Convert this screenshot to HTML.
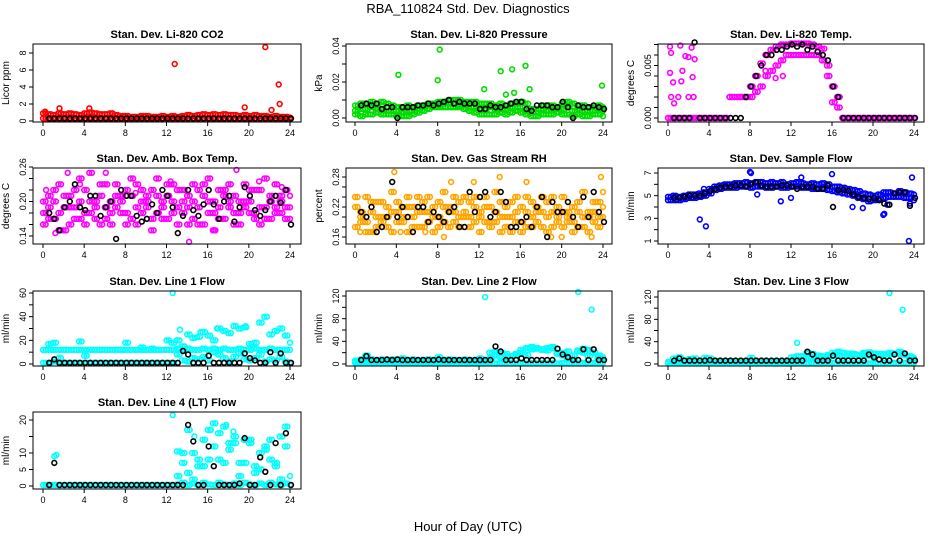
<!DOCTYPE html>
<html><head><meta charset="utf-8"><style>
html,body{margin:0;padding:0;background:#fff;}
svg{display:block;font-family:"Liberation Sans",sans-serif;}
</style></head><body>
<svg id="chart" width="936" height="540" viewBox="0 0 936 540">
<text x="468" y="13" text-anchor="middle" font-size="13">RBA_110824  Std. Dev. Diagnostics</text>
<text x="468" y="531" text-anchor="middle" font-size="13">Hour of Day (UTC)</text>
</svg>
<script>
const H=[0,0.5,1,1.5,2,2.5,3,3.5,4,4.5,5,5.5,6,6.5,7,7.5,8,8.5,9,9.5,10,10.5,11,11.5,12,12.5,13,13.5,14,14.5,15,15.5,16,16.5,17,17.5,18,18.5,19,19.5,20,20.5,21,21.5,22,22.5,23,23.5,24];
const xTicks=[0,4,8,12,16,20,24];
const n=null;
// P1 CO2
const co2Hi=[0.9,0.8,0.7,0.9,0.8,0.9,0.8,0.7,0.9,1.0,0.9,0.8,0.8,0.9,0.7,0.6,0.6,0.5,0.5,0.6,0.6,0.5,0.5,0.6,0.5,0.6,0.5,0.6,0.7,0.6,0.7,0.8,0.7,0.8,0.7,0.8,0.7,0.7,0.6,0.7,0.6,0.7,0.6,0.6,0.5,0.6,0.5,0.5,0.4];
const co2Lo=[0.3,0.2,0.3,0.2,0.3,0.2,0.2,0.3,0.2,0.3,0.2,0.2,0.3,0.2,0.2,0.3,0.2,0.2,0.2,0.3,0.2,0.2,0.2,0.2,0.3,0.2,0.2,0.3,0.2,0.2,0.3,0.2,0.2,0.3,0.2,0.2,0.3,0.2,0.2,0.2,0.3,0.2,0.2,0.3,0.2,0.2,0.2,0.3,0.2];
const co2OutX=[0.2,1.6,4.5,12.8,19.6,21.6,22.2,22.9,23.0];
const co2OutY=[1.1,1.5,1.5,6.7,1.6,8.7,1.3,4.3,2.0];
const co2Blk=[n,0.3,0.3,0.3,0.3,0.3,0.3,0.3,0.3,0.3,0.3,0.3,0.3,0.3,0.3,0.3,0.3,0.3,0.3,0.3,0.3,0.3,0.3,0.3,0.3,0.3,0.3,0.3,0.3,0.3,0.3,0.3,0.3,0.3,0.3,0.3,0.3,0.3,0.3,0.3,0.3,0.3,0.3,0.3,0.3,0.3,0.3,0.3,0.3];
// P2 pressure
const prA=[0.007,0.008,0.008,0.009,0.008,0.009,0.008,0.007,0.006,0.006,0.007,0.006,0.007,0.007,0.008,0.008,0.009,0.009,0.010,0.010,0.010,0.009,0.009,0.009,0.008,0.008,0.008,0.007,0.008,0.007,0.008,0.008,0.009,0.008,0.005,0.005,0.007,0.007,0.007,0.006,0.008,0.009,0.008,0.007,0.007,0.006,0.006,0.007,0.006];
const prB=[0.004,0.005,0.005,0.006,0.005,0.005,0.004,0.004,0.004,0.003,0.004,0.004,0.005,0.006,0.007,0.007,0.007,0.008,0.008,0.008,0.007,0.007,0.006,0.006,0.005,0.005,0.006,0.005,0.005,0.005,0.006,0.006,0.006,0.004,0.003,0.003,0.005,0.004,0.005,0.005,0.005,0.006,0.004,0.005,0.004,0.004,0.004,0.005,0.004];
const prC=[0.002,0.001,0.002,0.002,0.003,0.002,0.002,0.002,0.001,0.001,0.001,0.002,0.003,0.004,0.005,0.006,0.006,0.006,0.006,0.006,0.006,0.005,0.004,0.003,0.002,0.002,0.002,0.002,0.003,0.002,0.003,0.004,0.003,0.002,0.001,0.001,0.002,0.002,0.002,0.003,0.002,0.002,0.001,0.002,0.001,0.001,0.002,0.002,0.001];
const prOutX=[4.2,8.0,8.2,12.5,14.1,14.6,15.2,15.4,16.5,16.9,23.9];
const prOutY=[0.024,0.021,0.038,0.016,0.026,0.013,0.027,0.014,0.029,0.016,0.018];
const prBlk=[n,0.007,0.008,0.007,0.008,0.005,0.006,0.006,0.0,0.006,0.006,0.006,0.007,0.007,0.008,0.007,0.008,0.009,0.010,0.008,0.009,0.008,0.008,0.008,0.005,0.005,0.007,0.006,0.006,0.007,0.008,0.009,0.009,0.005,0.004,0.007,0.007,0.007,0.006,0.006,0.009,0.006,0.0,0.007,0.006,0.006,0.007,0.006,0.005];
// P3 temp
const tpHi=[0,0,0,0,0,0,0,0,0,0,0,0,0.002,0.002,0.002,0.002,0.003,0.004,0.0052,0.006,0.0065,0.0068,0.007,0.007,0.0071,0.0071,0.0071,0.0071,0.007,0.0068,0.0066,0.005,0.003,0.002,0,0,0,0,0,0,0,0,0,0,0,0,0,0,0];
const tpLo=[0,0,0,0,0,0,0,0,0,0,0,0,0.002,0.002,0.002,0.002,0.002,0.0025,0.003,0.004,0.0045,0.005,0.0055,0.006,0.006,0.006,0.006,0.006,0.006,0.006,0.0055,0.004,0.0015,0.001,0,0,0,0,0,0,0,0,0,0,0,0,0,0,0];
const tpOutX=[0.2,0.3,0.2,0.5,0.3,0.6,1.2,1.3,1.4,1.7,2.0,2.3,2.4,2.6,2.5,1.0,2.0,9.5,10.5,11.2];
const tpOutY=[0.0068,0.0062,0.0043,0.0034,0.002,0.0014,0.0069,0.0035,0.0045,0.0059,0.0058,0.0067,0.0039,0.0056,0.002,0.002,0.002,0.0045,0.0038,0.004];
const tpBlk=[n,0,0,0,0,0.0072,0,0,0,0,0,0,0,0,0,0.002,0.003,0.004,0.005,0.006,0.006,0.0065,0.0065,0.0068,0.007,0.0068,0.007,0.0065,0.0068,0.0063,0.006,0.0055,0.003,0.002,0,0,0,0,0,0,0,0,0,0,0,0,0,0,0];
// P4 amb box temp
const abA=[0.18,0.21,0.17,0.23,0.19,0.16,0.22,0.20,0.18,0.25,0.19,0.21,0.17,0.20,0.23,0.18,0.16,0.21,0.19,0.22,0.20,0.17,0.24,0.19,0.21,0.18,0.22,0.20,0.16,0.23,0.19,0.21,0.18,0.20,0.22,0.17,0.19,0.21,0.18,0.23,0.20,0.17,0.22,0.19,0.21,0.18,0.20,0.22,0.19];
const abB=[0.20,0.17,0.22,0.18,0.15,0.21,0.19,0.17,0.22,0.18,0.20,0.16,0.23,0.18,0.19,0.21,0.22,0.17,0.23,0.18,0.21,0.22,0.18,0.20,0.17,0.23,0.19,0.18,0.21,0.17,0.22,0.16,0.24,0.18,0.17,0.22,0.20,0.18,0.16,0.20,0.18,0.22,0.19,0.17,0.20,0.23,0.18,0.17,0.21];
const abC=[0.16,0.19,0.20,0.15,0.21,0.19,0.17,0.24,0.16,0.20,0.17,0.23,0.19,0.16,0.21,0.20,0.18,0.24,0.16,0.20,0.19,0.15,0.21,0.17,0.23,0.20,0.16,0.22,0.19,0.20,0.16,0.23,0.20,0.15,0.19,0.21,0.23,0.16,0.20,0.19,0.22,0.18,0.16,0.24,0.17,0.19,0.21,0.19,0.17];
const abOutX=[1.2,2.4,6.1,14.2,18.8,16.6,0.3,3.6,9.0,12.4,21.0,23.2];
const abOutY=[0.145,0.25,0.25,0.13,0.255,0.15,0.22,0.23,0.215,0.235,0.235,0.225];
const abBlk=[n,0.18,0.17,0.15,0.19,0.2,0.23,0.19,0.185,0.21,0.21,0.175,0.19,0.20,0.135,0.22,0.21,0.21,0.175,0.165,0.17,0.195,0.18,0.22,0.21,0.19,0.145,0.175,0.22,0.185,0.175,0.195,0.22,0.195,0.17,0.20,0.21,0.165,0.19,0.225,0.21,0.185,0.175,0.185,0.20,0.21,0.198,0.22,0.16];
// P5 gas stream RH
const rhA=[0.22,0.19,0.24,0.21,0.18,0.23,0.20,0.25,0.19,0.22,0.24,0.18,0.21,0.23,0.19,0.22,0.20,0.25,0.21,0.19,0.23,0.20,0.18,0.24,0.21,0.19,0.22,0.25,0.20,0.18,0.23,0.21,0.19,0.24,0.20,0.22,0.18,0.23,0.21,0.19,0.24,0.20,0.22,0.18,0.25,0.21,0.19,0.23,0.20];
const rhB=[0.18,0.21,0.19,0.17,0.23,0.20,0.18,0.21,0.23,0.19,0.17,0.22,0.24,0.18,0.21,0.17,0.23,0.19,0.22,0.24,0.18,0.21,0.23,0.19,0.17,0.22,0.19,0.21,0.23,0.20,0.17,0.19,0.22,0.18,0.23,0.19,0.21,0.17,0.24,0.20,0.18,0.21,0.19,0.23,0.18,0.20,0.23,0.18,0.22];
const rhC=[0.24,0.20,0.17,0.23,0.20,0.19,0.22,0.17,0.21,0.20,0.22,0.20,0.18,0.21,0.24,0.20,0.18,0.22,0.18,0.21,0.20,0.24,0.20,0.22,0.20,0.24,0.18,0.19,0.17,0.22,0.20,0.24,0.17,0.21,0.18,0.21,0.24,0.20,0.18,0.22,0.21,0.19,0.17,0.21,0.20,0.17,0.21,0.20,0.25];
const rhOutX=[0.5,1.8,3.8,4.4,6.8,8.6,9.3,11.5,14.0,16.6,19.0,20.0,22.9,23.8];
const rhOutY=[0.17,0.17,0.29,0.17,0.17,0.16,0.27,0.27,0.28,0.27,0.16,0.16,0.16,0.28];
const rhBlk=[n,0.21,0.2,0.22,0.17,0.18,0.2,0.27,0.2,0.22,0.2,0.17,0.22,0.22,0.19,0.21,0.2,0.19,0.21,0.22,0.18,0.18,0.25,0.21,0.24,0.25,0.2,0.21,0.25,0.23,0.18,0.18,0.19,0.2,0.18,0.22,0.24,0.16,0.23,0.21,0.21,0.23,0.2,0.18,0.24,0.2,0.25,0.21,0.19];
// P6 sample flow
const sfA=[4.9,5.0,4.9,5.0,5.1,5.1,5.2,5.3,5.6,5.8,5.9,6.0,6.0,6.1,6.1,6.2,6.1,6.2,6.2,6.1,6.2,6.1,6.2,6.0,6.1,6.2,6.1,6.0,6.1,6.0,6.1,6.0,5.8,5.8,5.7,5.6,5.5,5.4,5.2,5.1,5.0,5.1,5.3,5.3,5.2,5.4,5.3,5.2,5.1];
const sfB=[4.6,4.6,4.6,4.7,4.8,4.8,4.9,5.0,5.2,5.5,5.6,5.7,5.7,5.7,5.8,5.8,5.7,5.8,5.8,5.7,5.7,5.8,5.7,5.7,5.8,5.8,5.7,5.7,5.6,5.6,5.6,5.5,5.4,5.3,5.2,5.1,5.0,4.8,4.7,4.5,4.6,4.7,4.8,4.9,4.9,4.9,4.8,4.8,4.6];
const sfOutX=[3.1,3.7,8.0,8.1,11.0,12.0,16.0,18.0,19.0,21.0,21.1,21.4,23.5,23.8,23.6,3.5,8.7,13.0];
const sfOutY=[2.9,2.3,7.1,7.0,4.5,4.8,6.9,4.0,3.9,3.3,3.4,4.2,1.0,6.6,4.3,5.6,5.1,6.6];
const sfBlk=[n,4.8,4.8,4.9,5.0,5.0,5.0,5.2,5.4,5.6,5.7,5.8,5.8,5.9,5.9,5.8,6.0,6.2,5.9,5.8,5.8,5.8,5.9,5.9,5.8,5.6,5.8,5.8,5.8,5.6,5.6,5.9,4.0,5.5,5.5,5.4,5.1,4.9,4.8,4.7,4.8,4.6,4.3,4.2,5.2,5.3,5.3,4.1,4.8];
// P7 line 1
const l1A=[12,12,12,12,12,12,12,12,12,12,12,12,12,12,12,12,12,12,12,12,12,12,12,12,12,12,13,12,13,12,12,13,12,13,12,13,12,12,13,12,12,13,12,12,13,12,12,12,12];
const l1B=[1,1,2,1,1,1,1,1,1,1,1,1,1,1,1,1,1,1,1,1,1,1,1,1,1,1,8,3,2,5,4,6,3,10,8,5,2,6,9,4,3,5,8,2,4,3,6,2,1];
const l1C=[n,17,18,5,n,n,n,19,7,n,n,n,n,n,n,n,18,n,n,14,n,13,n,n,20,18,20,15,25,22,23,27,24,20,30,28,26,32,30,31,17,18,35,40,25,28,30,24,18];
const l1OutX=[12.6,13.3,15.3,16.9,19.7];
const l1OutY=[60,29,27,30,32];
const l1Blk=[n,1,4,1,1,1,1,1,1,1,1,1,1,1,1,1,1,1,1,1,1,1,1,1,1,1,1,11,8,1,1,1,7,1,1,1,1,1,1,9,5,3,1,1,10,1,9,1,1];
// P8 line 2
const l2A=[4,5,5,5,5,5,5,5,5,5,5,5,5,5,5,5,5,5,5,5,5,5,5,5,5,5,10,15,12,18,14,15,25,28,26,27,25,28,30,18,20,22,15,24,20,25,20,10,8];
const l2B=[2,1,2,1,2,1,2,1,2,1,2,1,2,1,2,1,2,1,2,1,2,1,2,1,2,1,2,1,2,1,2,1,2,1,2,1,2,1,2,1,2,1,2,1,2,1,2,1,2];
const l2C=[6,8,15,8,7,8,7,8,8,10,7,8,6,7,8,6,12,7,8,7,6,8,7,6,10,7,20,22,20,12,14,18,20,16,30,28,26,24,28,20,15,10,8,22,27,14,20,15,12];
const l2OutX=[12.6,21.6,22.9];
const l2OutY=[118,127,96];
const l2Blk=[n,7,14,7,7,7,8,7,8,7,7,7,7,7,7,7,8,7,7,7,7,7,7,7,7,7,7,31,22,7,7,7,10,7,7,7,7,7,7,27,17,12,7,7,26,7,26,7,7];
// P9 line 3
const l3A=[4,5,5,5,5,5,5,5,5,5,5,5,5,5,5,5,5,5,5,5,5,5,5,5,5,5,8,10,12,10,12,12,15,16,14,16,18,16,17,15,14,16,18,17,19,18,16,12,8];
const l3B=[1,2,2,1,2,1,2,2,1,2,1,2,1,2,1,2,1,2,2,1,2,1,2,1,2,1,2,1,2,1,2,1,2,1,2,1,2,1,2,1,2,1,2,1,2,1,2,1,2];
const l3C=[n,10,12,n,9,10,n,11,10,n,n,n,n,n,n,n,11,n,n,n,n,n,n,n,12,14,14,20,18,15,14,16,20,22,20,19,18,16,20,21,19,18,17,20,19,22,16,14,11];
const l3OutX=[12.6,21.6,22.9];
const l3OutY=[38,127,97];
const l3Blk=[n,6,10,6,6,6,6,6,7,6,6,6,6,6,6,6,6,6,6,6,6,6,6,6,6,6,6,22,17,6,6,6,15,6,6,6,6,6,6,17,12,8,6,6,17,6,19,6,6];
// P10 line 4
const l4A=[0.3,0.3,0.3,0.3,0.3,0.3,0.3,0.3,0.3,0.3,0.3,0.3,0.3,0.3,0.3,0.3,0.3,0.3,0.3,0.3,0.3,0.3,0.3,0.3,0.3,0.3,0.5,1,0.3,0.8,0.3,1,0.5,0.3,1,0.5,0.3,0.8,0.3,1,0.5,0.3,0.8,0.3,1,0.5,0.3,0.8,0.3];
const l4B=[n,n,n,n,n,n,n,n,n,n,n,n,n,n,n,n,n,n,n,n,n,n,n,n,n,n,10.5,7,17,10,8,6,17,19,16,18,11,15,7,14,13,6,5,12,14,7,15,18,3];
const l4C=[n,n,n,n,n,n,n,n,n,n,n,n,n,n,n,n,n,n,n,n,n,n,n,n,n,n,3,10,4,2,6,14,8,12,8,7,13,13,3,7,14,4,10,11,8,6,2,12,n];
const l4OutX=[12.6,1.1,1.3,14.7,16.3,17.8,18.5];
const l4OutY=[21.5,9,9.4,15,17,18.5,16.5];
const l4Blk=[n,0.3,7,0.3,0.3,0.3,0.3,0.3,0.3,0.3,0.3,0.3,0.3,0.3,0.3,0.3,0.3,0.3,0.3,0.3,0.3,0.3,0.3,0.3,0.3,0.3,0.3,0.3,18.5,13.5,0.3,0.3,12,6,0.3,0.3,0.3,0.3,0.8,14.5,0.3,0.3,8.7,4.3,0.3,13,0.3,16,0.3];

const COLS=[{l:33,r:301,x0:43,x1:290},{l:346,r:612,x0:355,x1:603},{l:658,r:924,x0:668,x1:914}];
const ROWS=[{t:44,b:122},{t:168,b:244},{t:291,b:366},{t:412,b:489}];
const panels=[
 {name:'co2',title:'Stan. Dev. Li-820 CO2',ylab:'Licor ppm',c:0,r:0,col:'#ff0000',v0:0,p0:121,v1:8,p1:53,ticks:[0,2,4,6,8],labels:['0','2','4','6','8'],series:[co2Hi,co2Lo],ox:co2OutX,oy:co2OutY,blk:co2Blk},
 {name:'pressure',title:'Stan. Dev. Li-820 Pressure',ylab:'kPa',c:1,r:0,col:'#00dd00',v0:0,p0:118,v1:0.04,p1:46,ticks:[0,0.01,0.02,0.03,0.04],labels:['0.00','','0.02','','0.04'],series:[prA,prB,prC],ox:prOutX,oy:prOutY,blk:prBlk},
 {name:'temp',title:'Stan. Dev. Li-820 Temp.',ylab:'degrees C',c:2,r:0,col:'#ff00ff',v0:0,p0:118,v1:0.005,p1:65.5,ticks:[0,0.001,0.002,0.003,0.004,0.005,0.006,0.007],labels:['0.000','','','','','0.005','',''],series:[tpHi,tpLo],ox:tpOutX,oy:tpOutY,blk:tpBlk},
 {name:'amb-temp',title:'Stan. Dev. Amb. Box Temp.',ylab:'degrees C',c:0,r:1,col:'#ff00ff',v0:0.14,p0:236,v1:0.26,p1:167,ticks:[0.14,0.16,0.18,0.2,0.22,0.24,0.26],labels:['0.14','','','0.20','','','0.26'],series:[abA,abB,abC],ox:abOutX,oy:abOutY,blk:abBlk},
 {name:'gas-rh',title:'Stan. Dev. Gas Stream RH',ylab:'percent',c:1,r:1,col:'#ffa500',v0:0.16,p0:237,v1:0.28,p1:177,ticks:[0.16,0.18,0.2,0.22,0.24,0.26,0.28],labels:['0.16','','','0.22','','','0.28'],series:[rhA,rhB,rhC],ox:rhOutX,oy:rhOutY,blk:rhBlk},
 {name:'sample-flow',title:'Stan. Dev. Sample Flow',ylab:'ml/min',c:2,r:1,col:'#0000ff',v0:1,p0:241,v1:7,p1:173,ticks:[1,2,3,4,5,6,7],labels:['1','','3','','5','','7'],series:[sfA,sfB],ox:sfOutX,oy:sfOutY,blk:sfBlk},
 {name:'line1',title:'Stan. Dev. Line 1 Flow',ylab:'ml/min',c:0,r:2,col:'#00ffff',v0:0,p0:364,v1:60,p1:293,ticks:[0,10,20,30,40,50,60],labels:['0','','20','','40','','60'],series:[l1A,l1B,l1C],ox:l1OutX,oy:l1OutY,blk:l1Blk},
 {name:'line2',title:'Stan. Dev. Line 2 Flow',ylab:'ml/min',c:1,r:2,col:'#00ffff',v0:0,p0:364,v1:120,p1:296,ticks:[0,20,40,60,80,100,120],labels:['0','','40','','80','','120'],series:[l2A,l2B,l2C],ox:l2OutX,oy:l2OutY,blk:l2Blk},
 {name:'line3',title:'Stan. Dev. Line 3 Flow',ylab:'ml/min',c:2,r:2,col:'#00ffff',v0:0,p0:364,v1:120,p1:297,ticks:[0,20,40,60,80,100,120],labels:['0','','40','','80','','120'],series:[l3A,l3B,l3C],ox:l3OutX,oy:l3OutY,blk:l3Blk},
 {name:'line4',title:'Stan. Dev. Line 4 (LT) Flow',ylab:'ml/min',c:0,r:3,col:'#00ffff',v0:0,p0:486,v1:20,p1:420,ticks:[0,5,10,15,20],labels:['0','5','10','','20'],series:[l4A,l4B,l4C],ox:l4OutX,oy:l4OutY,blk:l4Blk}
];
const NS='http://www.w3.org/2000/svg';
const svg=document.getElementById('chart');
function mk(tag,attrs,parent){const e=document.createElementNS(NS,tag);for(const k in attrs)e.setAttribute(k,attrs[k]);(parent||svg).appendChild(e);return e;}
function circ(g,x,y,col){const c=mk('circle',{cx:x.toFixed(1),cy:y.toFixed(1),r:2.4,fill:'none',stroke:col,'stroke-width':1.6},g);

}
panels.forEach(p=>{
 const C=COLS[p.c],R=ROWS[p.r];
 const xs=h=>C.x0+(h/24)*(C.x1-C.x0);
 const ys=v=>p.p0+(v-p.v0)/(p.v1-p.v0)*(p.p1-p.p0);
 const g=mk('g',{});
 
 
 const t=mk('text',{x:(C.l+C.r)/2,y:R.t-6,'text-anchor':'middle','font-size':11,'font-weight':'bold'},g);t.textContent=p.title;
 
 
 const yl=mk('text',{x:0,y:0,'text-anchor':'middle','font-size':10,transform:`translate(${C.l-24},${(R.t+R.b)/2}) rotate(-90)`},g);yl.textContent=p.ylab;
 
 
 const plot=mk('g',{},g);
 
 
 // each sample drawn with a small time jitter copy to emulate the dense sub-sampled record
 p.series.forEach(s=>s.forEach((v,i)=>{if(v!==null&&i<H.length){circ(plot,xs(H[i]),ys(v),p.col);if(H[i]<24)circ(plot,xs(H[i]+0.25),ys(v),p.col);}}));
 p.ox.forEach((x,i)=>circ(plot,xs(x),ys(p.oy[i]),p.col));
 p.blk.forEach((v,i)=>{if(v!==null&&i<H.length)circ(plot,xs(H[i]+0.1),ys(v),'#000');});
 const box=mk('rect',{x:C.l,y:R.t,width:C.r-C.l,height:R.b-R.t,fill:'none',stroke:'#000','stroke-width':1},g);
 
 
 const xa=mk('g',{},g);
 
 
 mk('line',{x1:C.x0,x2:C.x1,y1:R.b,y2:R.b,stroke:'#000'},xa);
 xTicks.forEach(h=>{mk('line',{x1:xs(h),x2:xs(h),y1:R.b,y2:R.b+4,stroke:'#000'},xa);
  const tl=mk('text',{x:xs(h),y:R.b+14,'text-anchor':'middle','font-size':9},xa);tl.textContent=String(h);
  
  });
 const ya=mk('g',{},g);
 
 
 p.ticks.forEach((v,i)=>{const y=ys(v);mk('line',{x1:C.l-4,x2:C.l,y1:y,y2:y,stroke:'#000'},ya);
  if(p.labels[i]){const tl=mk('text',{x:0,y:0,'text-anchor':'middle','font-size':9,transform:`translate(${C.l-7},${y}) rotate(-90)`},ya);tl.textContent=p.labels[i];
  
  }});
});
</script>
</body></html>
